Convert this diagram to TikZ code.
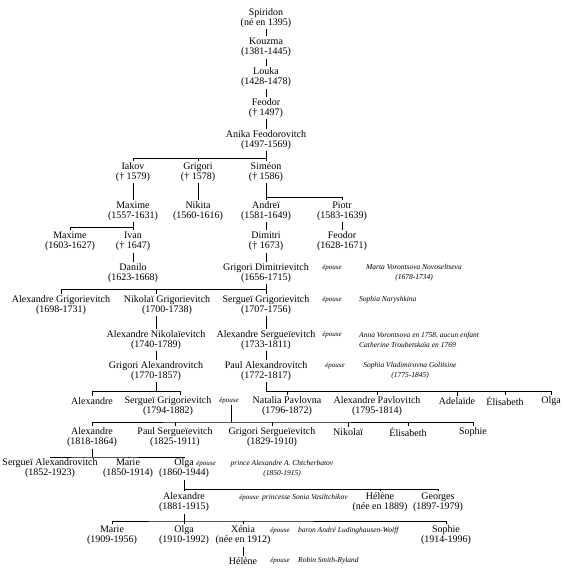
\documentclass[tikz,border=0pt]{standalone}
\usepackage{fontspec}
\setmainfont{Liberation Serif}
\usepackage{tikz}
\usetikzlibrary{positioning}

\begin{document}
\begin{tikzpicture}[x=1pt, y=-1pt,
  pers/.style={align=center, inner sep=1.5pt, font=\fontsize{10}{10}\selectfont},
  wife/.style={align=center, inner sep=1pt, font=\fontsize{7.5}{10}\selectfont\itshape},
  wed/.style={inner sep=1pt, font=\fontsize{7}{8}\selectfont\itshape},
  link/.style={draw, line width=0.6pt}
]
\useasboundingbox (0,0) rectangle (563,572);
% la lignée directe
\node[pers] (spiridon) at (266,18)  {Spiridon\\(né en 1395)};
\node[pers] (kouzma)   at (266,47.5) {Kouzma\\(1381-1445)};
\node[pers] (louka)    at (266,77.5) {Louka\\(1428-1478)};
\node[pers] (feodorA)  at (266,108) {Feodor\\(† 1497)};
\node[pers] (anika)    at (266,140) {Anika Feodorovitch\\(1497-1569)};
\draw[link] (spiridon)--(kouzma);\draw[link] (kouzma)--(louka);
\draw[link] (louka)--(feodorA);\draw[link] (feodorA)--(anika);

% fils d'Anika
\node[pers] (iakov)    at (133,172) {Iakov\\(† 1579)};
\node[pers] (grigoriA) at (198,172) {Grigori\\(† 1578)};
\node[pers] (simeon)   at (266,172) {Siméon\\(† 1586)};
\coordinate (j1) at (266,158);
\draw[link] (anika)--(j1);
\draw[link] (iakov) |- (j1) -| (simeon);
\draw[link] (grigoriA)--(grigoriA |- j1);

\node[pers] (maximeA) at (133,211) {Maxime\\(1557-1631)};
\node[pers] (nikita)  at (198,211) {Nikita\\(1560-1616)};
\node[pers] (andrei)  at (266,211) {Andreï\\(1581-1649)};
\node[pers] (piotr)   at (342,211) {Piotr\\(1583-1639)};
\draw[link] (iakov)--(maximeA);\draw[link] (grigoriA)--(nikita);
\coordinate (j2) at (266,197);
\draw[link] (simeon)--(j2) -| (piotr);\draw[link] (j2)--(andrei);

\node[pers] (maximeB) at (70,241.5)  {Maxime\\(1603-1627)};
\node[pers] (ivan)    at (133,241.5) {Ivan\\(† 1647)};
\node[pers] (dimitri) at (266,241.5) {Dimitri\\(† 1673)};
\node[pers] (feodorB) at (342,241.5) {Feodor\\(1628-1671)};
\coordinate (j3) at (133,227);
\draw[link] (maximeA)--(j3) -| (maximeB);\draw[link] (j3)--(ivan);
\draw[link] (andrei)--(dimitri);\draw[link] (piotr)--(feodorB);

\node[pers] (danilo)   at (133,273) {Danilo\\(1623-1668)};
\node[pers] (grigoriD) at (266,273) {Grigori Dimitrievitch\\(1656-1715)};
\node[wed]  (epA)      at (332,268) {épouse};
\node[wife] (marta)    at (414,273) {Marta Vorontsova Novoseltseva\\(1678-1734)};
\draw[link] (ivan)--(danilo);\draw[link] (dimitri)--(grigoriD);

% enfants de Grigori Dimitrievitch
\node[pers] (alexG)    at (61,305)  {Alexandre Grigorievitch\\(1698-1731)};
\node[pers] (nikolaiG) at (167,305) {Nikolaï Grigorievitch\\(1700-1738)};
\node[pers] (sergueiG) at (266,305) {Sergueï Grigorievitch\\(1707-1756)};
\node[wed]  (epB)      at (332,300) {épouse};
\node[wife, anchor=west] (sophiaN) at (358,300) {Sophia Naryshkina};
\coordinate (j4) at (266,289);
\draw[link] (grigoriD)--(j4) -| (alexG);\draw[link] (j4)--(sergueiG);

\node[pers] (alexN) at (156,340) {Alexandre Nikolaïevitch\\(1740-1789)};
\node[pers] (alexS) at (266,340) {Alexandre Sergueïevitch\\(1733-1811)};
\node[wed]  (epC)   at (332,335) {épouse};
\node[wife, anchor=west, align=left] (anna) at (358,340) {Anna Vorontsova en 1758, aucun enfant\\Catherine Troubetskaïa en 1769};
\draw[link] (alexN |- nikolaiG.north)--(alexN |- j4);
\draw[link] (alexN |- nikolaiG.south)--(alexN);\draw[link] (sergueiG)--(alexS);

\node[pers] (grigoriAl) at (156,371) {Grigori Alexandrovitch\\(1770-1857)};
\node[pers] (paulA)     at (266,371) {Paul Alexandrovitch\\(1772-1817)};
\node[wed]  (epD)       at (335,366) {épouse};
\node[wife] (sophiaV)   at (410,371) {Sophia Vladimirovna Golitsine\\(1775-1845)};
\draw[link] (alexN)--(grigoriAl);\draw[link] (alexS)--(paulA);

% la génération de Sergueï et Natalia
\node[pers] (alexandreA) at (92,401)   {Alexandre};
\node[pers] (sergueiGr)  at (168,406)  {Sergueï Grigorievitch\\(1794-1882)};
\node[wed]  (epE)        at (229,401)  {épouse};
\node[pers] (natalia)    at (287,406)  {Natalia Pavlovna\\(1796-1872)};
\node[pers] (alexP)      at (377,406)  {Alexandre Pavlovitch\\(1795-1814)};
\node[pers] (adelaide)   at (457,401)  {Adelaïde};
\node[pers] (elisabethA) at (505,401)  {Élisabeth};
\node[pers] (olgaA)      at (551,401)  {Olga};
\coordinate (j5) at (156,391);
\coordinate (t5) at (180,391);
\draw[link] (grigoriAl)--(j5);
\draw[link] (alexandreA) |- (t5)--(t5 |- sergueiGr.north);
\coordinate (j6) at (266,391);
\draw[link] (paulA)--(j6) -| (olgaA);
\draw[link] (natalia)--(natalia |- j6);\draw[link] (alexP)--(alexP |- j6);
\draw[link] (adelaide)--(adelaide |- j6);\draw[link] (elisabethA)--(elisabethA |- j6);

\node[pers] (alexandreB) at (92,437.5)  {Alexandre\\(1818-1864)};
\node[pers] (paulS)      at (175,437.5) {Paul Sergueïevitch\\(1825-1911)};
\node[pers] (grigoriS)   at (272,437.5) {Grigori Sergueïevitch\\(1829-1910)};
\node[pers] (nikolai)    at (348,432)   {Nikolaï};
\node[pers] (elisabethB) at (408,432)   {Élisabeth};
\node[pers] (sophieA)    at (473,432)   {Sophie};
\coordinate (j7) at (231,422);
\draw[link] (epE.south -| j7)--(j7);
\draw[link] (alexandreB) |- (j7) -| (sophieA);
\draw[link] (paulS)--(paulS |- j7);\draw[link] (grigoriS)--(grigoriS |- j7);
\draw[link] (nikolai)--(nikolai |- j7);\draw[link] (elisabethB)--(elisabethB |- j7);

\node[pers] (sergueiA) at (50,468.5)  {Sergueï Alexandrovitch\\(1852-1923)};
\node[pers] (marieA)   at (128,468.5) {Marie\\(1850-1914)};
\node[pers] (olgaB)    at (184,468.5) {Olga\\(1860-1944)};
\node[wed]  (epF)      at (206,464)   {épouse};
\node[wife] (chtcherbatov) at (282,469) {prince Alexandre A. Chtcherbatov\\(1850-1915)};
\coordinate (j8) at (92,457);
\draw[link] (alexandreB)--(j8);
\draw[link] (sergueiA) |- (j8) -| (olgaB);
\draw[link] (marieA)--(marieA |- j8);

\node[pers] (alexandreC) at (184,502.5) {Alexandre\\(1881-1915)};
\node[wed]  (epG)        at (249,498)   {épouse};
\node[wife, anchor=west] (sonia) at (261,498) {princesse Sonia Vasiltchikov};
\node[pers] (heleneA)    at (380,502.5) {Hélène\\(née en 1889)};
\node[pers] (georges)    at (438,502.5) {Georges\\(1897-1979)};
\coordinate (j9) at (184,489);
\draw[link] (olgaB)--(j9) -| (georges);\draw[link] (j9)--(alexandreC);
\draw[link] (heleneA)--(heleneA |- j9);

\node[pers] (marieB)  at (112,535.5) {Marie\\(1909-1956)};
\node[pers] (olgaC)   at (184,535.5) {Olga\\(1910-1992)};
\node[pers] (xenia)   at (243,535.5) {Xénia\\(née en 1912)};
\node[wed]  (epH)     at (280,531)   {épouse};
\node[wife, anchor=west] (andre) at (297,531) {baron André Ludinghausen-Wolff};
\node[pers] (sophieB) at (446,535.5) {Sophie\\(1914-1996)};
\coordinate (j10) at (184,521);
\draw[link] (alexandreC)--(j10);
\draw[link] (marieB) |- (j10) -| (sophieB);
\draw[link] (j10)--(olgaC);\draw[link] (xenia)--(xenia |- j10);

\node[pers] (heleneB) at (243,561) {Hélène};
\node[wed]  (epI)     at (280,561) {épouse};
\node[wife, anchor=west] (robin) at (297,561) {Robin Smith-Ryland};
\draw[link] (xenia)--(heleneB);
\end{tikzpicture}
\end{document}
